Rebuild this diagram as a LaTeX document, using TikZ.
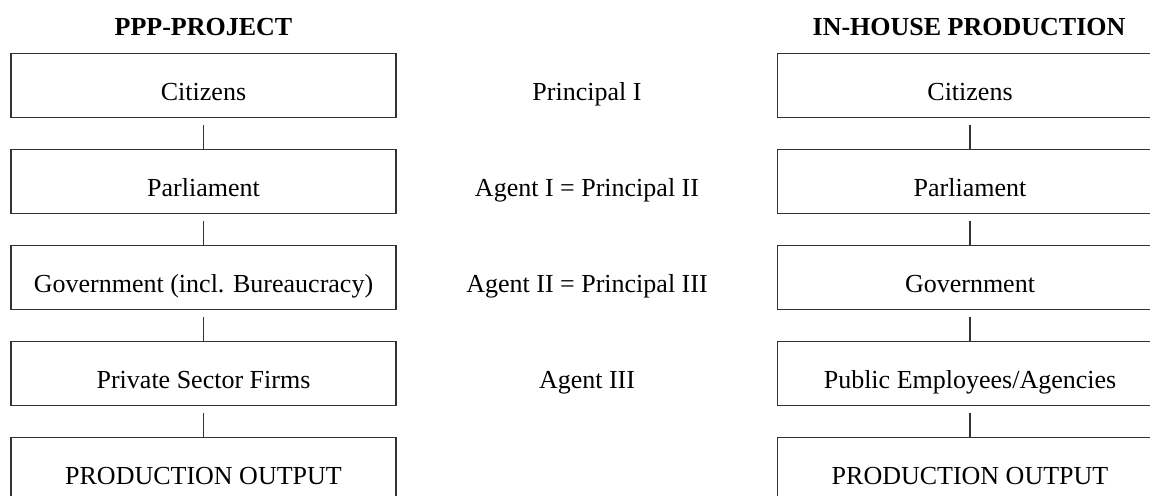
\documentclass[tikz,border=0pt]{standalone}
\usepackage{fontspec}
\setmainfont{Liberation Serif}
\begin{document}
\begin{tikzpicture}[x=1pt,y=-1pt,
  box/.style={draw=black!80,line width=1.2pt,minimum width=385pt,minimum height=64pt,inner sep=0pt,text height=33pt,text depth=3pt,font=\fontsize{26}{30}\selectfont},
  lbl/.style={inner sep=0pt,text height=33pt,text depth=3pt,font=\fontsize{26}{30}\selectfont},
  head/.style={inner sep=0pt,font=\fontsize{26}{30}\selectfont\bfseries},
  link/.style={draw=black!80,line width=1.2pt}]
\clip (0,0) rectangle (1150,495);
\useasboundingbox (0,0) rectangle (1150,495);
% headings
\node[head] (hl) at (203.5,27) {PPP-PROJECT};
\node[head] (hr) at (969,27) {IN-HOUSE PRODUCTION};
% left column
\node[box] (l1) at (203.5,85.5) {Citizens};
\node[box] (l2) at (203.5,181.5) {Parliament};
\node[box] (l3) at (203.5,277.5) {Government (incl. Bureaucracy)};
\node[box] (l4) at (203.5,373.5) {Private Sector Firms};
\node[box] (l5) at (203.5,469.5) {PRODUCTION OUTPUT};
% right column
\node[box] (r1) at (970,85.5) {Citizens};
\node[box] (r2) at (970,181.5) {Parliament};
\node[box] (r3) at (970,277.5) {Government};
\node[box] (r4) at (970,373.5) {Public Employees/Agencies};
\node[box] (r5) at (970,469.5) {PRODUCTION OUTPUT};
% middle labels
\node[lbl] (m1) at (587,85.5) {Principal I};
\node[lbl] (m2) at (587,181.5) {Agent I = Principal II};
\node[lbl] (m3) at (587,277.5) {Agent II = Principal III};
\node[lbl] (m4) at (587,373.5) {Agent III};
% connectors
\foreach \a/\b in {l1/l2,l2/l3,l3/l4,l4/l5,r1/r2,r2/r3,r3/r4,r4/r5}
  \draw[link] ([yshift=-7pt]\a.south) -- ([yshift=-1pt]\b.north);
\end{tikzpicture}
\end{document}
